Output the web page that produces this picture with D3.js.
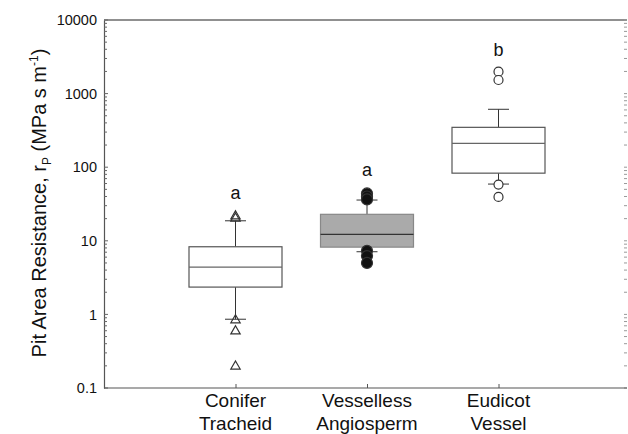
<!DOCTYPE html>
<html lang="en">
<head>
    <meta charset="utf-8">
    <title>Pit Area Resistance</title>
    <script src="https://cdn.jsdelivr.net/npm/d3@7"></script>
    <style>
        body { margin: 0; background: #fff; }
        svg text { font-family: Arial, "Liberation Sans", sans-serif; fill: #111; }
    </style>
</head>
<body>
<div id="chart"></div>
<script>
    // chart values
    const categories = [["Conifer", "Tracheid"], ["Vesselless", "Angiosperm"], ["Eudicot", "Vessel"]];
    const q1 = [2.35, 8.2, 83];
    const medians = [4.4, 12.2, 211];
    const q3 = [8.3, 22.9, 348];
    const whiskerLow = [0.86, 7.1, 59];
    const whiskerHigh = [18.7, 35.8, 612];
    const outliers = [
        [22, 20.5, 0.85, 0.6, 0.2],
        [44, 40, 36.5, 7.3, 6.2, 5],
        [1985, 1530, 58, 39.5]
    ];
    const letters = ["a", "a", "b"];
    const yTicks = [0.1, 1, 10, 100, 1000, 10000];

    const width = 628, height = 434;
    const plot = {left: 104, right: 630, top: 20, bottom: 388};

    const svg = d3.select("#chart").append("svg")
        .attr("width", width)
        .attr("height", height);

    const keys = categories.map(d => d.join(" "));

    // scales
    const x = d3.scalePoint()
        .domain(keys)
        .range([plot.left, plot.right])
        .padding(1);

    const y = d3.scaleLog()
        .domain([0.1, 10000])
        .range([plot.bottom, plot.top]);

    const boxW = 93;

    // frame: top line
    svg.append("line")
        .attr("x1", plot.left).attr("x2", 627)
        .attr("y1", plot.top).attr("y2", plot.top)
        .attr("stroke", "#222").attr("stroke-width", 1.2);

    // minor ticks on the right side (faint)
    const minorVals = [];
    for (let e = -1; e < 4; e++) {
        for (let m = 1; m < 10; m++) minorVals.push(m * Math.pow(10, e));
    }
    minorVals.push(10000);

    svg.append("g")
        .selectAll("line")
        .data(minorVals)
        .enter()
        .append("line")
            .attr("x1", 624).attr("x2", 627)
            .attr("y1", d => y(d)).attr("y2", d => y(d))
            .attr("stroke", "#999").attr("stroke-width", 1);

    // left axis
    const yAxis = svg.append("g")
        .attr("transform", "translate(" + plot.left + ",0)")
        .call(d3.axisLeft(y).tickValues(yTicks).tickSize(0).tickPadding(7).tickFormat(d => String(d)));
    yAxis.select(".domain").attr("stroke", "#555").attr("stroke-width", 1.2);
    yAxis.selectAll("text").style("font-size", "14.5px").attr("fill", "#111");

    svg.append("g")
        .selectAll("line")
        .data(minorVals)
        .enter()
        .append("line")
            .attr("x1", plot.left).attr("x2", d => yTicks.includes(d) ? plot.left + 4 : plot.left + 3)
            .attr("y1", d => y(d)).attr("y2", d => y(d))
            .attr("stroke", "#666").attr("stroke-width", 1);

    // bottom axis
    const xAxis = svg.append("g")
        .attr("transform", "translate(0," + plot.bottom + ")")
        .call(d3.axisBottom(x).tickSizeInner(-4).tickSizeOuter(0).tickFormat(""));
    xAxis.select(".domain").attr("stroke", "#555").attr("stroke-width", 1.2)
        .attr("d", "M" + plot.left + ",0H627");
    xAxis.selectAll(".tick line").attr("stroke", "#555");

    // category labels (two lines)
    const catLabels = svg.append("g")
        .selectAll("text")
        .data(categories)
        .enter()
        .append("text")
            .attr("x", (d, i) => x(keys[i]))
            .attr("y", 407)
            .attr("text-anchor", "middle")
            .style("font-size", "19px");
    catLabels.append("tspan")
        .attr("x", (d, i) => x(keys[i]))
        .text(d => d[0]);
    catLabels.append("tspan")
        .attr("x", (d, i) => x(keys[i]))
        .attr("dy", 23)
        .text(d => d[1]);

    // y axis title
    const yTitle = svg.append("text")
        .attr("transform", "translate(46,203) rotate(-90)")
        .attr("text-anchor", "middle")
        .style("font-size", "20px");
    yTitle.append("tspan").text("Pit Area Resistance, r");
    yTitle.append("tspan").attr("dy", 5).style("font-size", "12px").text("P");
    yTitle.append("tspan").attr("dy", -5).text(" (MPa s m");
    yTitle.append("tspan").attr("dy", -8).style("font-size", "12px").text("-1");
    yTitle.append("tspan").attr("dy", 8).text(")");

    // boxes
    const boxes = svg.append("g")
        .selectAll("g")
        .data(keys)
        .enter()
        .append("g");

    // whiskers
    boxes.append("line")
        .attr("x1", d => x(d)).attr("x2", d => x(d))
        .attr("y1", (d, i) => y(q3[i])).attr("y2", (d, i) => y(whiskerHigh[i]))
        .attr("stroke", "#333");
    boxes.append("line")
        .attr("x1", d => x(d)).attr("x2", d => x(d))
        .attr("y1", (d, i) => y(q1[i])).attr("y2", (d, i) => y(whiskerLow[i]))
        .attr("stroke", "#333");
    boxes.append("line")
        .attr("x1", d => x(d) - 10.5).attr("x2", d => x(d) + 10.5)
        .attr("y1", (d, i) => y(whiskerHigh[i])).attr("y2", (d, i) => y(whiskerHigh[i]))
        .attr("stroke", "#333");
    boxes.append("line")
        .attr("x1", d => x(d) - 10.5).attr("x2", d => x(d) + 10.5)
        .attr("y1", (d, i) => y(whiskerLow[i])).attr("y2", (d, i) => y(whiskerLow[i]))
        .attr("stroke", "#333");

    boxes.append("rect")
        .attr("x", d => x(d) - boxW / 2)
        .attr("width", boxW)
        .attr("y", (d, i) => y(q3[i]))
        .attr("height", (d, i) => y(q1[i]) - y(q3[i]))
        .attr("fill", (d, i) => i === 1 ? "#aaaaaa" : "#fff")
        .attr("stroke", (d, i) => i === 1 ? "#888" : "#555")
        .attr("stroke-width", 1.2);

    boxes.append("line")
        .attr("x1", d => x(d) - boxW / 2).attr("x2", d => x(d) + boxW / 2)
        .attr("y1", (d, i) => y(medians[i])).attr("y2", (d, i) => y(medians[i]))
        .attr("stroke", (d, i) => i === 1 ? "#333" : "#666")
        .attr("stroke-width", 1.2);

    // outliers
    const triangle = d3.symbol().type(d3.symbolTriangle).size(38);
    const flat = [];
    outliers.forEach((arr, i) => arr.forEach(v => flat.push({i: i, v: v})));

    svg.append("g")
        .selectAll("path")
        .data(flat.filter(d => d.i === 0))
        .enter()
        .append("path")
            .attr("d", triangle)
            .attr("transform", d => "translate(" + x(keys[d.i]) + "," + (y(d.v) + 0.5) + ")")
            .attr("fill", "none")
            .attr("stroke", "#333")
            .attr("stroke-width", 1.2);

    svg.append("g")
        .selectAll("circle")
        .data(flat.filter(d => d.i > 0))
        .enter()
        .append("circle")
            .attr("cx", d => x(keys[d.i]))
            .attr("cy", d => y(d.v))
            .attr("r", d => d.i === 1 ? 5.5 : 4.5)
            .attr("fill", d => d.i === 1 ? "#111" : "#fff")
            .attr("stroke", "#333")
            .attr("stroke-width", 1.2);

    // significance letters
    const letterY = [192.7, 170, 50];
    svg.append("g")
        .selectAll("text")
        .data(letters)
        .enter()
        .append("text")
            .attr("x", (d, i) => x(keys[i]))
            .attr("y", (d, i) => letterY[i] + 6)
            .attr("text-anchor", "middle")
            .style("font-size", "18px")
            .text(d => d);
</script>
</body>
</html>
